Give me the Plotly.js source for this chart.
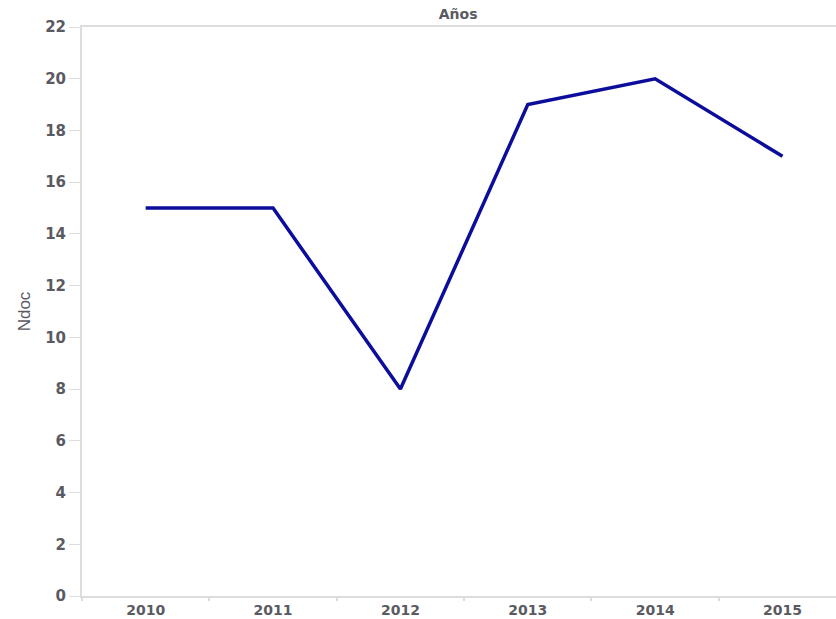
<!DOCTYPE html>
<html>
<head>
<meta charset="utf-8">
<script src="https://cdn.plot.ly/plotly-3.0.1.min.js"></script>
<style>html,body{margin:0;padding:0;background:#fff;}#chart{width:836px;height:619px;}</style>
</head>
<body>
<div id="chart"></div>
<script>
const years = ['2010', '2011', '2012', '2013', '2014', '2015'];
const ndoc = [15, 15, 8, 19, 20, 17];
const yTicks = [0, 2, 4, 6, 8, 10, 12, 14, 16, 18, 20, 22];

const tickFont = { family: 'DejaVu Sans, Verdana, sans-serif', size: 15, color: '#5a5a62', weight: 'bold' };

const trace = {
  x: years,
  y: ndoc,
  type: 'scatter',
  mode: 'lines',
  line: { color: '#0d0d9c', width: 3.5 },
  hoverinfo: 'x+y'
};

const layout = {
  width: 836,
  height: 619,
  margin: { l: 82, r: 0, t: 27, b: 23, pad: 0 },
  paper_bgcolor: '#ffffff',
  plot_bgcolor: '#ffffff',
  showlegend: false,
  title: {
    text: 'Años',
    x: 0.548, xanchor: 'center',
    y: 0.977, yanchor: 'middle',
    font: { family: 'DejaVu Sans, Verdana, sans-serif', size: 14, color: '#5a5a62', weight: 'bold' }
  },
  xaxis: {
    type: 'category',
    range: [-0.5, 5.42],
    showgrid: false,
    zeroline: false,
    showline: true,
    linecolor: '#dddddd',
    linewidth: 2,
    mirror: true,
    ticks: 'outside',
    tickson: 'boundaries',
    ticklen: 3,
    tickcolor: '#dddddd',
    tickwidth: 2,
    tickfont: { family: 'DejaVu Sans, Verdana, sans-serif', size: 14, color: '#5a5a62', weight: 'bold' }
  },
  yaxis: {
    range: [0, 22],
    tickvals: yTicks,
    showgrid: false,
    zeroline: false,
    showline: true,
    linecolor: '#dddddd',
    linewidth: 2,
    ticks: 'outside',
    ticklen: 11,
    tickcolor: '#dddddd',
    tickwidth: 1,
    tickfont: tickFont,
    title: {
      text: 'Ndoc',
      standoff: 10,
      font: { family: 'Liberation Sans Narrow, Arial Narrow, Liberation Sans, sans-serif', size: 17, color: '#5a5a62' }
    }
  }
};

Plotly.newPlot('chart', [trace], layout, { displayModeBar: false, responsive: false });
</script>
</body>
</html>
